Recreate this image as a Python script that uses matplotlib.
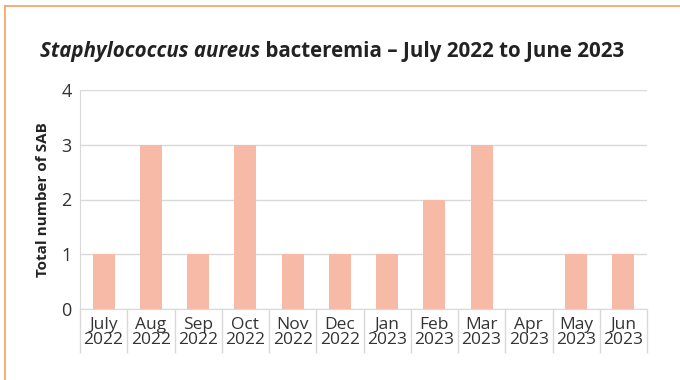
import matplotlib
matplotlib.use("Agg")
import matplotlib.pyplot as plt
from matplotlib.lines import Line2D
import numpy as np

months = ["July", "Aug", "Sep", "Oct", "Nov", "Dec", "Jan", "Feb", "Mar", "Apr", "May", "Jun"]
years = ["2022"] * 6 + ["2023"] * 6
values = [1, 3, 1, 3, 1, 1, 1, 2, 3, 0, 1, 1]

FONT = "Open Sans"
plt.rcParams['font.family'] = [FONT, 'DejaVu Sans']

W, H = 680, 380
fig = plt.figure(figsize=(W / 100, H / 100), dpi=100)
ax = fig.add_axes([80 / W, 1 - 309 / H, (647 - 80) / W, (309 - 90) / H])

x = np.arange(len(values))
ax.bar(x, values, width=0.47, color="#F7BAA6", zorder=2)
ax.set_xlim(-0.5, len(values) - 0.5)
ax.set_ylim(0, 4)
ax.set_yticks([0, 1, 2, 3, 4])
ax.tick_params(axis='y', length=0, labelsize=13, labelcolor="#333333", pad=6)
ax.yaxis.grid(True, color="#d9d9d9", linewidth=1, zorder=0)
for s in ["top", "right"]:
    ax.spines[s].set_visible(False)
ax.spines["left"].set_color("#d9d9d9")
ax.spines["bottom"].set_color("#d9d9d9")

# category separators below axis
ax.set_xticks(np.arange(-0.5, len(values), 1.0))
ax.set_xticklabels([])
ax.tick_params(axis='x', which='major', length=32, color="#d9d9d9", width=1, direction='out')
ax.set_xticks(x, minor=True)
ax.set_xticklabels([f"{m}\n{y}" for m, y in zip(months, years)], minor=True,
                   fontsize=12.5, color="#333333", linespacing=0.85)
ax.tick_params(axis='x', which='minor', length=0, pad=6)
ax.spines["left"].set_bounds(0, 4)

ax.set_ylabel("Total number of SAB", fontsize=11, fontweight="bold", color="#222222", labelpad=8)

# title with italic part
t1 = fig.text(40 / W, 1 - 57 / H, "Staphylococcus aureus", fontsize=14.8, fontweight="bold",
              fontstyle="italic", color="#222222", va="baseline")
fig.canvas.draw()
r = fig.canvas.get_renderer()
bb = t1.get_window_extent(r)
fig.text(bb.x1 / W, 1 - 57 / H, " bacteremia \u2013 July 2022 to June 2023", fontsize=14.8,
         fontweight="bold", color="#222222", va="baseline")

# orange frame
fig.add_artist(Line2D([5 / W, 1], [1 - 6 / H, 1 - 6 / H], color="#F5A05E", linewidth=1.2))
fig.add_artist(Line2D([5 / W, 5 / W], [0, 1 - 6 / H], color="#F5A05E", linewidth=1.2))

fig.savefig("out.png", dpi=100)
